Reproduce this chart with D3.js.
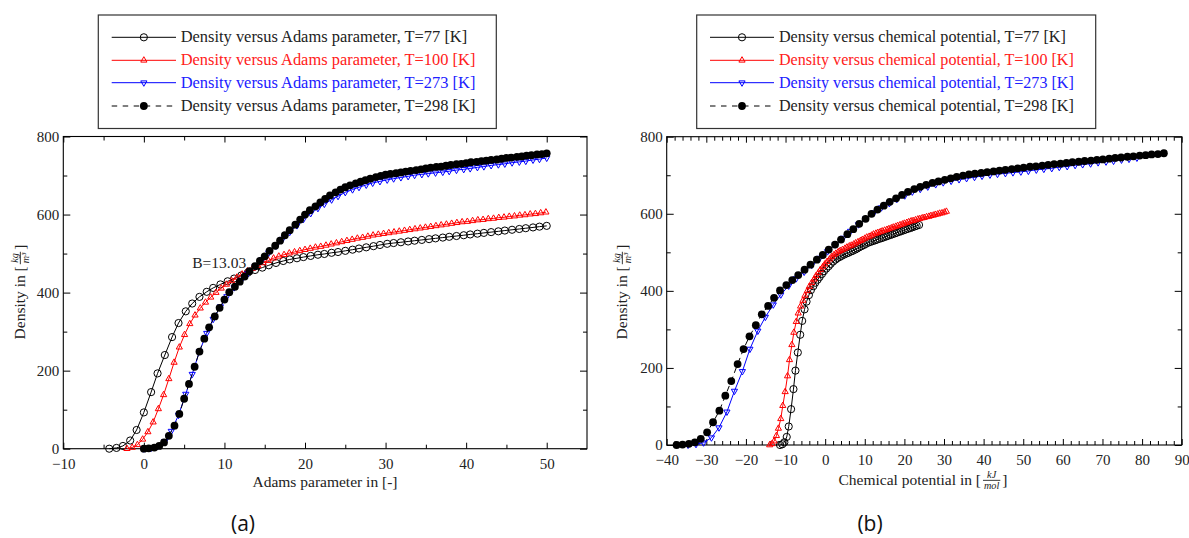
<!DOCTYPE html>
<html><head><meta charset="utf-8">
<script src="https://cdn.jsdelivr.net/npm/d3@7"></script>
<style>
body{margin:0;background:#fff}
svg{display:block}
</style>
</head><body>
<svg id="c" width="1189" height="538"></svg>
<script>
// ---------------- data ----------------
// T = 77 K
const b77 = [-4.3,-3.4,-2.6,-1.7,-0.9,0.0,0.9,1.7,2.6,3.5,4.3,5.2,6.0,6.9,7.8,8.6,9.5,10.4,11.2,12.1,12.9,13.8,14.7,15.5,16.4,17.3,18.1,19.0,19.8,20.7,21.6,22.4,23.3,24.1,25.0,25.9,26.7,27.6,28.5,29.3,30.2,31.0,31.9,32.8,33.6,34.5,35.4,36.2,37.1,37.9,38.8,39.7,40.5,41.4,42.2,43.1,44.0,44.8,45.7,46.6,47.4,48.3,49.1,50.0];
const mu77 = [-11.4,-10.8,-10.3,-9.7,-9.2,-8.6,-8.0,-7.5,-6.9,-6.3,-5.8,-5.2,-4.7,-4.1,-3.6,-3.0,-2.5,-1.9,-1.4,-0.8,-0.3,0.3,0.9,1.4,2.0,2.6,3.1,3.7,4.2,4.8,5.4,5.9,6.5,7.0,7.6,8.1,8.6,9.2,9.8,10.3,10.9,11.4,12.0,12.6,13.1,13.7,14.3,14.8,15.4,15.9,16.5,17.0,17.6,18.1,18.7,19.2,19.8,20.3,20.9,21.5,22.0,22.6,23.1,23.7];
const rho77 = [0,2,7,21,48,93,145,193,240,286,322,352,372,389,402,412,421,429,436,444,451,458,464,470,476,481,485,488,491,494,497,499,502,504,507,510,513,516,519,522,525,527,529,531,533,535,537,539,541,543,545,547,549,551,553,555,557,559,561,563,565,567,569,571];
// T = 100 K
const b100 = [-2.1,-1.45,-0.8,-0.15,0.5,1.15,1.8,2.45,3.1,3.75,4.4,5.05,5.7,6.35,7.0,7.65,8.3,8.95,9.6,10.25,10.9,11.55,12.2,12.85,13.5,14.15,14.8,15.45,16.1,16.75,17.4,18.05,18.7,19.35,20.0,20.65,21.3,21.95,22.6,23.25,23.9,24.55,25.2,25.85,26.5,27.15,27.8,28.45,29.1,29.75,30.4,31.05,31.7,32.35,33.0,33.65,34.3,34.95,35.6,36.25,36.9,37.55,38.2,38.85,39.5,40.15,40.8,41.45,42.1,42.75,43.4,44.05,44.7,45.35,46.0,46.65,47.3,47.95,48.6,49.25,49.9];
const mu100 = [-14.0,-13.4,-12.9,-12.3,-11.8,-11.2,-10.7,-10.1,-9.5,-9.0,-8.4,-7.9,-7.3,-6.8,-6.2,-5.6,-5.1,-4.5,-4.0,-3.4,-2.8,-2.3,-1.7,-1.2,-0.6,-0.1,0.5,1.1,1.6,2.2,2.7,3.3,3.8,4.4,5.0,5.5,6.1,6.6,7.2,7.7,8.3,8.9,9.4,10.0,10.5,11.1,11.7,12.2,12.8,13.3,13.9,14.4,15.0,15.6,16.1,16.7,17.2,17.8,18.3,18.9,19.5,20.0,20.6,21.1,21.7,22.2,22.8,23.4,23.9,24.5,25.0,25.6,26.2,26.7,27.3,27.8,28.4,28.9,29.5,30.1,30.6];
const rho100 = [0,3,10,24,43,68,102,138,179,221,260,292,320,342,360,375,388,400,411,421,430,439,447,455,462,469,476,482,488,493,497,501,504,507,510,513,516,518,521,524,527,530,533,536,539,541,544,547,549,551,553,555,557,559,561,563,565,567,569,571,573,575,577,579,581,582,584,586,587,589,590,592,593,595,596,598,599,601,602,604,606];
// T = 273 K
const b273 = [0.0,0.9,1.7,2.6,3.4,4.3,5.2,6.0,6.9,7.8,8.6,9.5,10.3,11.2,12.1,12.9,13.8,14.7,15.5,16.4,17.2,18.1,19.0,19.8,20.7,21.6,22.4,23.3,24.1,25.0,25.9,26.7,27.6,28.4,29.3,30.2,31.0,31.9,32.8,33.6,34.5,35.3,36.2,37.1,37.9,38.8,39.7,40.5,41.4,42.2,43.1,44.0,44.8,45.7,46.6,47.4,48.3,49.1,50.0];
const mu273 = [-34.6,-32.6,-30.7,-28.7,-26.8,-24.8,-22.9,-20.9,-19.0,-17.0,-15.1,-13.1,-11.2,-9.2,-7.3,-5.3,-3.4,-1.4,0.6,2.5,4.5,6.4,8.4,10.3,12.3,14.2,16.2,18.1,20.1,22.0,24.0,25.9,27.9,29.8,31.8,33.8,35.7,37.7,39.6,41.6,43.5,45.5,47.4,49.4,51.3,53.3,55.2,57.2,59.1,61.1,63.1,65.0,67.0,68.9,70.9,72.8,74.8,76.7,78.7];
const rho273 = [0,2,6,19,45,86,140,191,249,296,332,364,390,413,432,449,467,485,502,520,537,555,572,588,603,616,627,638,647,657,664,670,676,681,685,689,692,695,698,701,703,705,707,709,711,714,716,718,721,723,726,728,730,733,735,737,740,742,745];
// T = 298 K
const b298 = [0.0,0.6,1.3,1.9,2.5,3.1,3.8,4.4,5.0,5.6,6.3,6.9,7.5,8.1,8.8,9.4,10.0,10.6,11.3,11.9,12.5,13.1,13.8,14.4,15.0,15.6,16.3,16.9,17.5,18.1,18.8,19.4,20.0,20.6,21.3,21.9,22.5,23.1,23.8,24.4,25.0,25.6,26.3,26.9,27.5,28.1,28.8,29.4,30.0,30.6,31.3,31.9,32.5,33.1,33.8,34.4,35.0,35.6,36.3,36.9,37.5,38.1,38.8,39.4,40.0,40.6,41.3,41.9,42.5,43.1,43.8,44.4,45.0,45.6,46.3,46.9,47.5,48.1,48.8,49.4,50.0];
const mu298 = [-37.5,-36.0,-34.4,-32.9,-31.4,-29.8,-28.3,-26.7,-25.2,-23.7,-22.1,-20.6,-19.1,-17.5,-16.0,-14.4,-12.9,-11.4,-9.8,-8.3,-6.8,-5.2,-3.7,-2.1,-0.6,0.9,2.5,4.0,5.6,7.1,8.6,10.2,11.7,13.2,14.8,16.3,17.9,19.4,20.9,22.5,24.0,25.5,27.1,28.6,30.2,31.7,33.2,34.8,36.3,37.8,39.4,40.9,42.5,44.0,45.5,47.1,48.6,50.1,51.7,53.2,54.8,56.3,57.8,59.4,60.9,62.4,64.0,65.5,67.1,68.6,70.1,71.7,73.2,74.7,76.3,77.8,79.4,80.9,82.4,84.0,85.5];
const rho298 = [0,1,3,7,16,33,59,89,128,166,210,249,282,311,339,361,382,401,415,428,441,455,468,481,493,507,520,533,547,560,574,587,600,611,621,631,640,649,657,664,670,675,680,684,688,692,696,699,702,704,706,708,710,712,714,716,718,720,722,723,725,727,729,730,732,734,735,737,738,740,741,743,745,746,748,749,751,752,754,755,757];

const legendA = ["Density versus Adams parameter, T=77 [K]","Density versus Adams parameter, T=100 [K]","Density versus Adams parameter, T=273 [K]","Density versus Adams parameter, T=298 [K]"];
const legendB = ["Density versus chemical potential, T=77 [K]","Density versus chemical potential, T=100 [K]","Density versus chemical potential, T=273 [K]","Density versus chemical potential, T=298 [K]"];
const xTicksA = [-10,0,10,20,30,40,50];
const xMinorA = [-5,5,15,25,35,45];
const xTicksB = [-40,-30,-20,-10,0,10,20,30,40,50,60,70,80,90];
const xMinorB = d3.range(-38,90,2).filter(v => v % 10 !== 0);
const yTicks = [0,200,400,600,800];
const yMinor = [100,300,500,700];
const annotation = {text:"B=13.03", b:12.7, rho:462};

// ---------------- styles ----------------
const series = [
  {b:b77, mu:mu77, rho:rho77, color:"#000", marker:"circle", dash:null},
  {b:b100, mu:mu100, rho:rho100, color:"#f00", marker:"up", dash:null},
  {b:b273, mu:mu273, rho:rho273, color:"#00f", marker:"down", dash:null},
  {b:b298, mu:mu298, rho:rho298, color:"#000", marker:"dot", dash:"6,4"}
];
const textColor = ["#222","#ff2020","#2020ff","#222"];
const SERIF = '"Liberation Serif","Times New Roman",serif';
const SANS = '"Open Sans","DejaVu Sans",sans-serif';
const svg = d3.select("#c");
const T = (sel, fs) => sel.append("text").style("font-family",SERIF).style("font-size",fs+"px").attr("fill","#222");

function drawMarker(sel, type, color) {
  if (type === "circle") sel.append("circle").attr("r",3.6).attr("fill","none").attr("stroke",color).attr("stroke-width",1);
  else if (type === "dot") sel.append("circle").attr("r",3.9).attr("fill",color);
  else if (type === "up") sel.append("path").attr("d","M0,-3.6L3.1,1.8L-3.1,1.8Z").attr("fill","none").attr("stroke",color).attr("stroke-width",1);
  else sel.append("path").attr("d","M0,3.6L3.1,-1.8L-3.1,-1.8Z").attr("fill","none").attr("stroke",color).attr("stroke-width",1);
}

function panel(xs, ys, xMajor, xMinor, xKey) {
  const g = svg.append("g");
  const [x0,x1] = xs.range();
  const [yb,yt] = ys.range();
  const clean = a => a.call(s => s.select(".domain").remove()).attr("font-size",null).attr("font-family",null);
  const styleText = a => a.selectAll("text").style("font-family",SERIF).style("font-size","15px").attr("fill","#222");
  g.append("g").attr("transform",`translate(0,${yb})`).call(d3.axisBottom(xs).tickValues(xMajor).tickSize(-6).tickPadding(9.5).tickFormat(d3.format("d"))).call(clean).call(styleText);
  g.append("g").attr("transform",`translate(0,${yb})`).call(d3.axisBottom(xs).tickValues(xMinor).tickSize(-4).tickFormat("")).call(clean);
  g.append("g").attr("transform",`translate(0,${yt})`).call(d3.axisTop(xs).tickValues(xMajor).tickSize(-6).tickFormat("")).call(clean);
  g.append("g").attr("transform",`translate(0,${yt})`).call(d3.axisTop(xs).tickValues(xMinor).tickSize(-4).tickFormat("")).call(clean);
  g.append("g").attr("transform",`translate(${x0},0)`).call(d3.axisLeft(ys).tickValues(yTicks).tickSize(-7).tickPadding(4).tickFormat(d3.format("d"))).call(clean).call(styleText);
  g.append("g").attr("transform",`translate(${x0},0)`).call(d3.axisLeft(ys).tickValues(yMinor).tickSize(-4).tickFormat("")).call(clean);
  g.append("g").attr("transform",`translate(${x1},0)`).call(d3.axisRight(ys).tickValues(yTicks).tickSize(-7).tickFormat("")).call(clean);
  g.append("g").attr("transform",`translate(${x1},0)`).call(d3.axisRight(ys).tickValues(yMinor).tickSize(-4).tickFormat("")).call(clean);
  g.selectAll(".tick line").attr("stroke","#000").attr("stroke-width",1);
  g.append("rect").attr("x",x0).attr("y",yt).attr("width",x1-x0).attr("height",yb-yt).attr("fill","none").attr("stroke","#000").attr("stroke-width",1.1);

  series.forEach(s => {
    const X = s[xKey];
    const idx = d3.range(X.length);
    const line = d3.line().x(i => xs(X[i])).y(i => ys(s.rho[i]));
    g.append("path").datum(idx).attr("d",line).attr("fill","none").attr("stroke",s.color).attr("stroke-width",1).attr("stroke-dasharray",s.dash);
    const m = g.append("g").selectAll("g").data(idx).join("g").attr("transform",i => `translate(${xs(X[i])},${ys(s.rho[i])})`);
    m.each(function(){ drawMarker(d3.select(this), s.marker, s.color); });
  });
  return g;
}

function legend(bx, by, bw, bh, lx0, lx1, tx, rows, labels) {
  const g = svg.append("g");
  g.append("rect").attr("x",bx).attr("y",by).attr("width",bw).attr("height",bh).attr("fill","#fff").attr("stroke","#333").attr("stroke-width",1.2);
  const texts = [];
  series.forEach((s,i) => {
    const y = rows[i];
    g.append("line").attr("x1",lx0).attr("x2",lx1).attr("y1",y).attr("y2",y).attr("stroke",s.color).attr("stroke-width",1).attr("stroke-dasharray",s.dash ? "5.5,5.5" : null);
    drawMarker(g.append("g").attr("transform",`translate(${(lx0+lx1)/2},${y})`), s.marker, s.color);
    texts.push(T(g,16).attr("x",tx).attr("y",y+5).attr("fill",textColor[i]).text(labels[i]));
  });
  const w = texts[1].node().getComputedTextLength();
  const fs = 16 * 295 / w;
  texts.forEach(t => t.style("font-size",fs+"px"));
}

function fracLabel(cx, cy, rot, pre, num, den, post, fs) {
  const outer = svg.append("g").attr("transform",`translate(${cx},${cy}) rotate(${rot})`);
  const g = outer.append("g");
  const t1 = T(g,fs).text(pre);
  let x = t1.node().getComputedTextLength() + 2;
  const fsS = fs*0.66;
  const n = T(g,fsS).style("font-style","italic").attr("text-anchor","middle").text(num);
  const d = T(g,fsS).style("font-style","italic").attr("text-anchor","middle").text(den);
  const fw = Math.max(n.node().getComputedTextLength(), d.node().getComputedTextLength()) + 2;
  const barY = -fs*0.3;
  n.attr("x",x+fw/2).attr("y",barY-2);
  d.attr("x",x+fw/2).attr("y",barY+fsS*0.72+1);
  g.append("line").attr("x1",x).attr("x2",x+fw).attr("y1",barY).attr("y2",barY).attr("stroke","#222").attr("stroke-width",0.9);
  x += fw + 2;
  const t2 = T(g,fs).attr("x",x).text(post);
  x += t2.node().getComputedTextLength();
  g.attr("transform",`translate(${-x/2},0)`);
}

// ---------------- panel (a) ----------------
const xA = d3.scaleLinear().domain([-10,55]).range([63.3,587]);
const yA = d3.scaleLinear().domain([0,800]).range([448.7,136.5]);
const gA = panel(xA, yA, xTicksA, xMinorA, "b");
T(gA,15.5).attr("x",xA(annotation.b)).attr("y",yA(annotation.rho)).attr("text-anchor","end").text(annotation.text);
legend(98.3, 15, 398, 113.5, 111.7, 176, 180.7, [37.3,60.3,82.7,106], legendA);
fracLabel(25, 292, -90, "Density in [", "kg", "m³", "]", 15.5);
T(svg,15.5).attr("x",325).attr("y",487).attr("text-anchor","middle").text("Adams parameter in [-]");
svg.append("text").attr("x",243).attr("y",531).attr("text-anchor","middle").style("font-family",SANS).style("font-size","21px").attr("fill","#111").text("(a)");

// ---------------- panel (b) ----------------
const xB = d3.scaleLinear().domain([-40,90]).range([666.7,1181.7]);
const yB = d3.scaleLinear().domain([0,800]).range([445,136.7]);
panel(xB, yB, xTicksB, xMinorB, "mu");
legend(696.7, 15, 399, 113.5, 710, 774, 779, [37.3,60.3,82.7,106], legendB);
fracLabel(627, 292, -90, "Density in [", "kg", "m³", "]", 15.5);
fracLabel(923, 485, 0, "Chemical potential in [", "kJ", "mol", "]", 15.5);
svg.append("text").attr("x",870).attr("y",531).attr("text-anchor","middle").style("font-family",SANS).style("font-size","21px").attr("fill","#111").text("(b)");
</script>
</body></html>
